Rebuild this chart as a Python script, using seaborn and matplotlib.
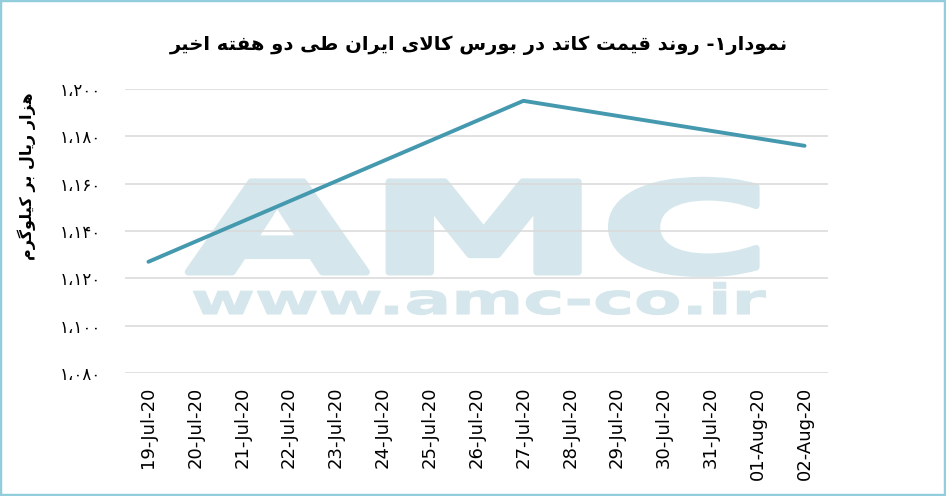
import matplotlib
matplotlib.use("Agg")
import matplotlib.pyplot as plt
import matplotlib.patheffects as patheffects
from matplotlib.transforms import Affine2D
from matplotlib.patches import Rectangle
import numpy as np
import pandas as pd
import seaborn as sns

# ---------------- data ----------------
tick_dates = ["19-Jul-20", "20-Jul-20", "21-Jul-20", "22-Jul-20", "23-Jul-20",
              "24-Jul-20", "25-Jul-20", "26-Jul-20", "27-Jul-20", "28-Jul-20",
              "29-Jul-20", "30-Jul-20", "31-Jul-20", "01-Aug-20", "02-Aug-20"]
obs_dates = ["2020-07-19", "2020-07-27", "2020-08-02"]
obs_values = [1127, 1195, 1176]
y_ticks = [1080, 1100, 1120, 1140, 1160, 1180, 1200]
title_text = "نمودار۱- روند قیمت کاتد در بورس کالای ایران طی دو هفته اخیر"
ylabel_text = "هزار ریال بر کیلوگرم"
wm_big = "AMC"
wm_small = "www.amc-co.ir"

# ---------------- simple Persian shaping (no CTL in matplotlib) ----------------
FORMS = {
    'ا': ('\uFE8D', '\uFE8E'),
    'ب': ('\uFE8F', '\uFE90', '\uFE91', '\uFE92'),
    'ت': ('\uFE95', '\uFE96', '\uFE97', '\uFE98'),
    'خ': ('\uFEA5', '\uFEA6', '\uFEA7', '\uFEA8'),
    'د': ('\uFEA9', '\uFEAA'),
    'ر': ('\uFEAD', '\uFEAE'),
    'ز': ('\uFEAF', '\uFEB0'),
    'س': ('\uFEB1', '\uFEB2', '\uFEB3', '\uFEB4'),
    'ط': ('\uFEC1', '\uFEC2', '\uFEC3', '\uFEC4'),
    'ف': ('\uFED1', '\uFED2', '\uFED3', '\uFED4'),
    'ق': ('\uFED5', '\uFED6', '\uFED7', '\uFED8'),
    'ل': ('\uFEDD', '\uFEDE', '\uFEDF', '\uFEE0'),
    'م': ('\uFEE1', '\uFEE2', '\uFEE3', '\uFEE4'),
    'ن': ('\uFEE5', '\uFEE6', '\uFEE7', '\uFEE8'),
    'ه': ('\uFEE9', '\uFEEA', '\uFEEB', '\uFEEC'),
    'و': ('\uFEED', '\uFEEE'),
    '\u06A9': ('\uFB8E', '\uFB8F', '\uFB90', '\uFB91'),
    '\u06AF': ('\uFB92', '\uFB93', '\uFB94', '\uFB95'),
    '\u06CC': ('\uFBFC', '\uFBFD', '\uFBFE', '\uFBFF'),
}


def shape(s):
    s = s.replace('\u0643', '\u06A9').replace('\u064A', '\u06CC').replace('\u0649', '\u06CC')
    out, i, n, prev_joins = [], 0, len(s), False
    while i < n:
        c = s[i]
        if c not in FORMS:
            out.append(c)
            prev_joins = False
            i += 1
            continue
        if c == 'ل' and i + 1 < n and s[i + 1] == 'ا':
            out.append('\uFEFC' if prev_joins else '\uFEFB')
            prev_joins = False
            i += 2
            continue
        nxt = s[i + 1] if i + 1 < n else ''
        f = FORMS[c]
        joins_next = len(f) == 4 and nxt in FORMS
        if prev_joins and joins_next:
            g = f[3]
        elif prev_joins:
            g = f[1]
        elif joins_next:
            g = f[2]
        else:
            g = f[0]
        out.append(g)
        prev_joins = joins_next
        i += 1
    return ''.join(out)


def rtl(s):
    return shape(s)[::-1]


PERSIAN_DIGITS = str.maketrans("0123456789,", "۰۱۲۳۴۵۶۷۸۹،")


def fa_num(v):
    return f"{v:,}".translate(PERSIAN_DIGITS)


class StretchBold(patheffects.AbstractPathEffect):
    """Stretch a text horizontally about its centre and thicken its strokes."""

    def __init__(self, sx, cx, stroke):
        super().__init__()
        self.sx, self.cx, self.stroke = sx, cx, stroke

    def draw_path(self, renderer, gc, tpath, affine, rgbFace=None):
        aff = affine + Affine2D().translate(-self.cx, 0).scale(self.sx, 1).translate(self.cx, 0)
        gc0 = renderer.new_gc()
        gc0.copy_properties(gc)
        gc0.set_linewidth(self.stroke)
        gc0.set_joinstyle("round")
        renderer.draw_path(gc0, tpath, aff, rgbFace)
        gc0.restore()


# ---------------- figure ----------------
sns.set_theme(style="white")
plt.rcParams['font.family'] = ['DejaVu Sans']

W, H = 946, 496
fig = plt.figure(figsize=(W / 100, H / 100), dpi=100)
fig.patch.set_facecolor("white")

L, R, T, B = 125, 828, 89, 373
ax = fig.add_axes([L / W, 1 - B / H, (R - L) / W, (B - T) / H])
ax.set_facecolor("none")

start = pd.Timestamp(obs_dates[0])
df = pd.DataFrame({
    "day": [(pd.Timestamp(d) - start).days for d in obs_dates],
    "value": obs_values,
})
sns.lineplot(data=df, x="day", y="value", ax=ax, color="#4599AF",
             linewidth=2.8, solid_capstyle="round", zorder=3)

ax.set_xlim(-0.5, len(tick_dates) - 0.5)
ax.set_ylim(y_ticks[0], y_ticks[-1])
ax.set_xticks(range(len(tick_dates)))
ax.set_xticklabels(tick_dates, rotation=90, fontsize=13, color="black",
                   family=["DejaVu Sans"])
ax.set_yticks(y_ticks)
ax.set_yticklabels([fa_num(v) for v in y_ticks], fontsize=12, color="black",
                   family=["DejaVu Sans"])
ax.tick_params(axis="both", length=0)
ax.tick_params(axis="y", pad=17)
ax.tick_params(axis="x", pad=10)
ax.yaxis.grid(True, color="#d9d9d9", linewidth=1.1)
ax.xaxis.grid(False)
for sp in ax.spines.values():
    sp.set_visible(False)
ax.set_xlabel("")
ax.set_ylabel(rtl(ylabel_text), fontsize=11.5, fontweight="bold", color="black",
              family=["DejaVu Sans"])
ax.yaxis.set_label_coords((36 - L) / (R - L), (B - 176) / (B - T))

# title
fig.text(479 / W, 1 - 45 / H, rtl(title_text), ha="center", va="center",
         fontsize=14, fontweight="bold", color="black", family=["DejaVu Sans"])

# watermark
wm_color = "#d5e7ec"
t1 = fig.text(479 / W, 1 - 272 / H, wm_big, ha="center", va="baseline",
              fontsize=89, fontweight="bold", color=wm_color, zorder=-5,
              family=["DejaVu Sans"])
t2 = fig.text(478 / W, 1 - 314 / H, wm_small, ha="center", va="baseline",
              fontsize=30, fontweight="bold", color=wm_color, zorder=-5,
              family=["DejaVu Sans"])
fig.canvas.draw()
rend = fig.canvas.get_renderer()
for t, target, stroke in ((t1, 584, 5.0), (t2, 574, 0.8)):
    bb = t.get_window_extent(rend)
    t.set_path_effects([StretchBold(target / bb.width, (bb.x0 + bb.x1) / 2, stroke)])

# border
fig.patches.append(Rectangle((0, 0), 1, 1, transform=fig.transFigure, fill=False,
                             edgecolor="#92CDDC", linewidth=3.2, zorder=10))

fig.savefig("out.png", dpi=100)
